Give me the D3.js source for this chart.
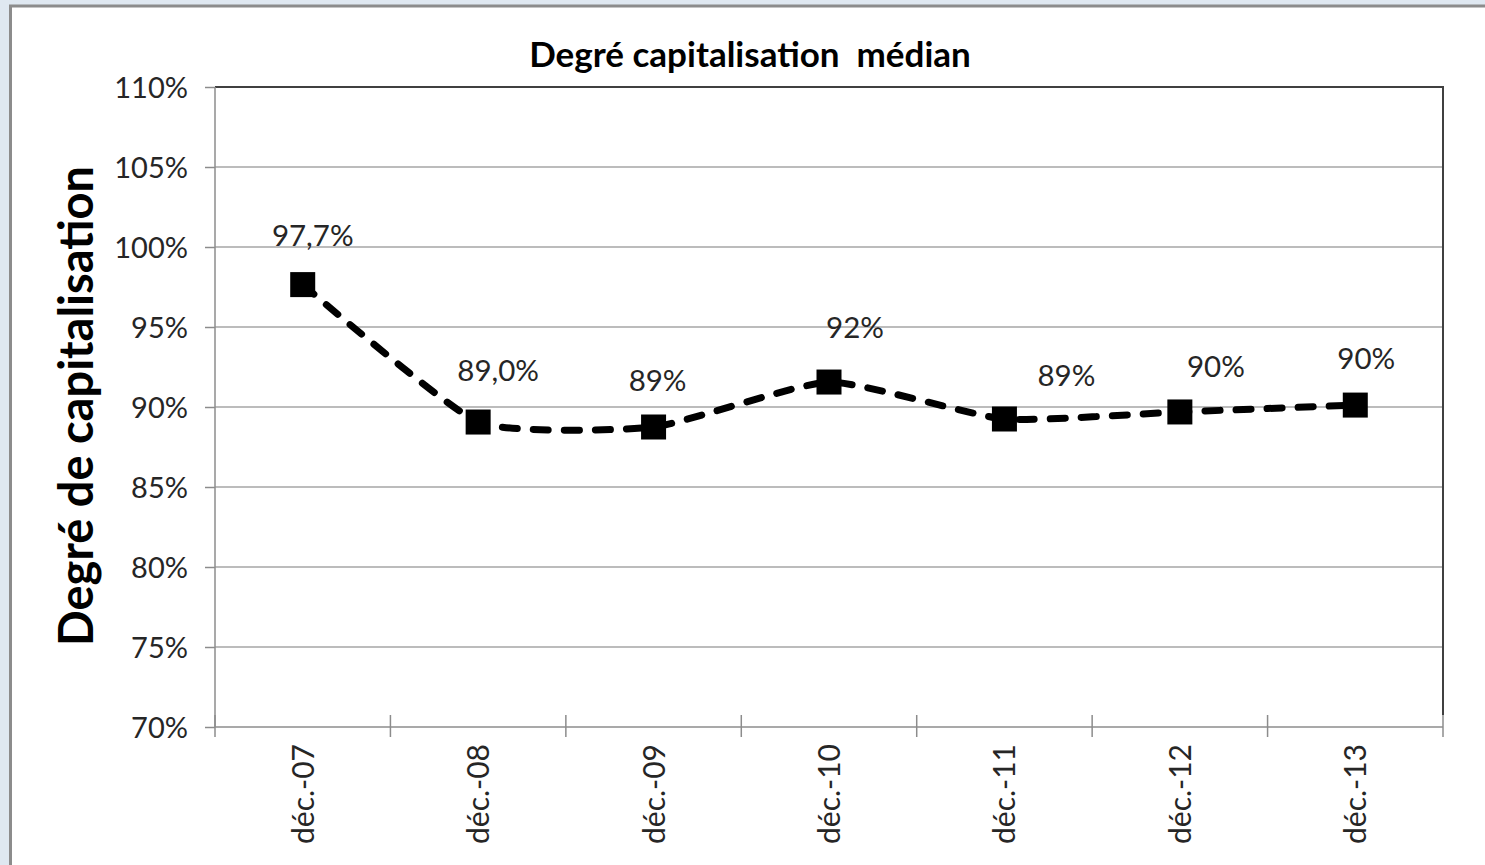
<!DOCTYPE html>
<html lang="fr">
<head>
<meta charset="UTF-8">
<title>Degré capitalisation médian</title>
<script src="https://d3js.org/d3.v7.min.js"></script>
<style>
  body { margin: 0; background: #dfe8f1; overflow: hidden; }
  svg { display: block; }
  text { font-family: Lato, "Open Sans", sans-serif; }
</style>
</head>
<body>
<svg width="1485" height="865"></svg>
<script>
// chart data
const categories = ['déc.-07', 'déc.-08', 'déc.-09', 'déc.-10', 'déc.-11', 'déc.-12', 'déc.-13'];
const values = [0.9765, 0.8906, 0.8875, 0.9156, 0.8925, 0.8969, 0.9012];
const valueLabels = ['97,7%', '89,0%', '89%', '92%', '89%', '90%', '90%'];
const yTicks = [0.70, 0.75, 0.80, 0.85, 0.90, 0.95, 1.00, 1.05, 1.10];

// hand-placed data label offsets (px from the marker), like the original
const labelDx = [10, 20, 4, 26, 62, 36, 11];
const labelDy = [-49, -52, -47, -55, -44, -46, -47];

const svg = d3.select('svg');
const plot = { left: 215, top: 87, right: 1443, bottom: 727 };

// white chart panel with grey frame
svg.append('rect')
  .attr('x', 10.5).attr('y', 6)
  .attr('width', 1500).attr('height', 900)
  .attr('fill', '#fff')
  .attr('stroke', '#8c8c8c')
  .attr('stroke-width', 3);

const x = d3.scaleBand().domain(categories).range([plot.left, plot.right]).padding(0);
const y = d3.scaleLinear().domain([0.70, 1.10]).range([plot.bottom, plot.top]);

// gridlines
svg.append('g')
  .selectAll('line')
  .data(yTicks.slice(1))
  .enter().append('line')
  .attr('x1', plot.left).attr('x2', plot.right)
  .attr('y1', d => y(d)).attr('y2', d => y(d))
  .attr('stroke', '#a6a6a6')
  .attr('stroke-width', 1.5);

// plot area border (top/right)
svg.append('path')
  .attr('d', `M${plot.left},${plot.top}H${plot.right}V${plot.bottom - 12}`)
  .attr('fill', 'none')
  .attr('stroke', '#404040')
  .attr('stroke-width', 2);

// y axis
const yAxis = svg.append('g')
  .attr('transform', `translate(${plot.left},0)`)
  .call(d3.axisLeft(y).tickValues(yTicks).tickSize(10).tickPadding(17)
    .tickFormat(d => Math.round(d * 100) + '%'));
yAxis.selectAll('line, path').attr('stroke', '#8c8c8c').attr('stroke-width', 1.5);
yAxis.select('.domain').attr('d', `M0,${plot.top}V${plot.bottom}`);
yAxis.selectAll('text')
  .attr('font-size', 29)
  .attr('fill', '#262626')
  .attr('dy', '0.36em');

// x axis line with ticks on band boundaries
const xg = svg.append('g');
xg.append('line')
  .attr('x1', plot.left).attr('x2', plot.right)
  .attr('y1', plot.bottom).attr('y2', plot.bottom)
  .attr('stroke', '#8c8c8c').attr('stroke-width', 1.5);
const bounds = categories.map(c => x(c)).concat([plot.right]);
xg.selectAll('.btick')
  .data(bounds)
  .enter().append('line')
  .attr('x1', d => d).attr('x2', d => d)
  .attr('y1', plot.bottom - 12).attr('y2', plot.bottom + 10)
  .attr('stroke', '#8c8c8c').attr('stroke-width', 1.5);

// x tick labels, rotated
xg.selectAll('.xlab')
  .data(categories)
  .enter().append('text')
  .attr('transform', d => `translate(${x(d) + x.bandwidth() / 2 + 11},${plot.bottom + 17}) rotate(-90)`)
  .attr('text-anchor', 'end')
  .attr('font-size', 30)
  .attr('fill', '#262626')
  .text(d => d);

// series line (lightly smoothed, dashed)
const line = d3.line()
  .x((d, i) => x(categories[i]) + x.bandwidth() / 2)
  .y(d => y(d))
  .curve(d3.curveCardinal.tension(0.5));

svg.append('path')
  .datum(values)
  .attr('d', line)
  .attr('fill', 'none')
  .attr('stroke', '#000')
  .attr('stroke-width', 7)
  .attr('stroke-linecap', 'round')
  .attr('stroke-dasharray', '15,16');

// square markers
const ms = 25;
svg.append('g')
  .selectAll('rect')
  .data(values)
  .enter().append('rect')
  .attr('x', (d, i) => x(categories[i]) + x.bandwidth() / 2 - ms / 2)
  .attr('y', d => y(d) - ms / 2)
  .attr('width', ms).attr('height', ms)
  .attr('fill', '#000');

// data labels
svg.append('g')
  .selectAll('text')
  .data(values)
  .enter().append('text')
  .attr('x', (d, i) => x(categories[i]) + x.bandwidth() / 2 + labelDx[i])
  .attr('y', (d, i) => y(d) + labelDy[i])
  .attr('dy', '0.36em')
  .attr('text-anchor', 'middle')
  .attr('font-size', 29.5)
  .attr('fill', '#262626')
  .text((d, i) => valueLabels[i]);

// title
svg.append('text')
  .attr('x', 750).attr('y', 54)
  .attr('dy', '0.36em')
  .attr('text-anchor', 'middle')
  .attr('font-size', 35)
  .attr('font-weight', 'bold')
  .attr('fill', '#000')
  .attr('xml:space', 'preserve')
  .text('Degré capitalisation  médian');

// y axis title
svg.append('text')
  .attr('transform', `translate(76,${(plot.top + plot.bottom) / 2 - 1}) rotate(-90)`)
  .attr('dy', '0.36em')
  .attr('text-anchor', 'middle')
  .attr('font-size', 47)
  .attr('font-weight', 'bold')
  .attr('fill', '#000')
  .text('Degré de capitalisation');
</script>
</body>
</html>
